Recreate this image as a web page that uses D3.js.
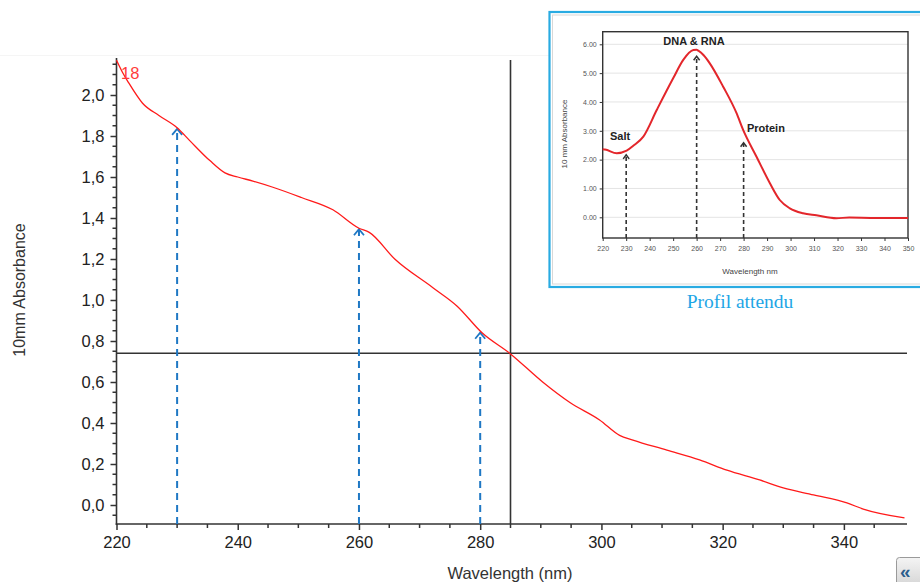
<!DOCTYPE html>
<html><head><meta charset="utf-8">
<script src="https://cdn.jsdelivr.net/npm/d3@7"></script>
<style>html,body{margin:0;padding:0;background:#fff;}svg{display:block;}</style>
</head><body>
<svg id="c" width="920" height="582"></svg>
<script>
// ---- main chart data ----
const wavelength = [220,221,222,224.3,227,230,232,235.4,237.9,240,242.5,245.8,250.5,255.7,260,261.7,265.9,272.2,276.2,280.3,285,290.3,294.8,299.7,303,305.2,310.8,316.2,320.7,326.1,330,335,340.5,343.2,350];
const absorbance = [2.17,2.11,2.06,1.96,1.90,1.84,1.78,1.68,1.62,1.60,1.58,1.55,1.50,1.44,1.35,1.33,1.20,1.06,0.97,0.84,0.737,0.60,0.50,0.415,0.34,0.317,0.268,0.22,0.17,0.122,0.083,0.049,0.01,-0.02,-0.063];
const xTicks = [220,240,260,280,300,320,340];
const yTicks = [0,0.2,0.4,0.6,0.8,1.0,1.2,1.4,1.6,1.8,2.0];
const markerWl = [230,260,280];
const markerTip = [1.84,1.35,0.845];
const crossWl = 285, crossAbs = 0.74;
const seriesLabel = "18";

// ---- inset data ----
const insetWl = [220,221,226,230.2,233,237.3,243,250,254.3,258.6,260,260.7,263,265.6,271.3,277,279.8,285.5,291.2,295.4,299.7,305.3,311,319.5,325,335,348.6,350];
const insetAbs = [2.36,2.35,2.22,2.31,2.48,2.80,3.72,4.82,5.46,5.80,5.81,5.78,5.62,5.34,4.53,3.61,3.03,2.10,1.18,0.60,0.31,0.14,0.07,-0.03,-0.01,-0.02,-0.02,-0.02];
const insetXTicks = [220,230,240,250,260,270,280,290,300,310,320,330,340,350];
const insetYTicks = [0,1,2,3,4,5,6];
const insetMarkerWl = [230,260,280];
const insetMarkerTip = [2.2,5.62,2.62];
const insetLabels = ["Salt","DNA & RNA","Protein"];

const svg = d3.select("#c");
const font = "'Liberation Sans', Arial, sans-serif";

// ---- main scales ----
const x = d3.scaleLinear().domain([220,350]).range([116.5,904.5]);
const y = d3.scaleLinear().domain([0,2]).range([505,95]);
const yBottom = 524, yTop = 58;

// faint top rule
svg.append("line").attr("x1",0).attr("x2",549).attr("y1",55.5).attr("y2",55.5).attr("stroke","#f5f5f5");

// y axis
const yAxisG = svg.append("g").attr("transform","translate(116.5,0)");
yAxisG.call(d3.axisLeft(y).tickValues(yTicks).tickSize(6).tickPadding(6)
  .tickFormat(d=>d3.format(".1f")(d).replace(".",",")));
yAxisG.select(".domain").remove();
yAxisG.selectAll(".tick line").attr("stroke","#333").attr("stroke-width",1.5);
yAxisG.selectAll("text").attr("font-family",font).attr("font-size",16.5).attr("fill","#222");
const yMinor = d3.range(-0.05,2.16,0.05).filter(v=>Math.abs(Math.round(v*5)-v*5)>0.01);
svg.append("g").selectAll("line").data(yMinor).join("line")
  .attr("x1",112.5).attr("x2",116.5).attr("y1",d=>y(d)).attr("y2",d=>y(d))
  .attr("stroke","#333").attr("stroke-width",1.5);
svg.append("line").attr("x1",116.5).attr("x2",116.5).attr("y1",yTop).attr("y2",yBottom+1)
  .attr("stroke","#333").attr("stroke-width",1.6);

// x axis
const xAxisG = svg.append("g").attr("transform",`translate(0,${yBottom})`);
xAxisG.call(d3.axisBottom(x).tickValues(xTicks).tickSize(6).tickPadding(6).tickFormat(d3.format("d")));
xAxisG.select(".domain").remove();
xAxisG.selectAll(".tick line").attr("stroke","#333").attr("stroke-width",1.5);
xAxisG.selectAll("text").attr("font-family",font).attr("font-size",16.5).attr("fill","#222");
const xMinor = d3.range(225,350,5).filter(v=>v%20!==0);
svg.append("g").selectAll("line").data(xMinor).join("line")
  .attr("x1",d=>x(d)).attr("x2",d=>x(d)).attr("y1",yBottom).attr("y2",yBottom+4)
  .attr("stroke","#333").attr("stroke-width",1.5);
svg.append("line").attr("x1",115.7).attr("x2",907).attr("y1",yBottom).attr("y2",yBottom)
  .attr("stroke","#333").attr("stroke-width",1.6);

// axis titles
svg.append("text").attr("x",510).attr("y",579).attr("text-anchor","middle")
  .attr("font-family",font).attr("font-size",16.5).attr("fill","#333").text("Wavelength (nm)");
svg.append("text").attr("transform","translate(25,290) rotate(-90)").attr("text-anchor","middle")
  .attr("font-family",font).attr("font-size",16).attr("fill","#333").text("10mm Absorbance");

// crosshair
svg.append("line").attr("x1",x(crossWl)).attr("x2",x(crossWl)).attr("y1",60).attr("y2",yBottom)
  .attr("stroke","#333").attr("stroke-width",1.6);
svg.append("line").attr("x1",116.5).attr("x2",907).attr("y1",y(crossAbs)).attr("y2",y(crossAbs))
  .attr("stroke","#333").attr("stroke-width",1.6);

// blue dashed arrows
const blue = "#1f78c4";
markerWl.forEach((w,i)=>{
  const xx = x(w), ty = y(markerTip[i]);
  svg.append("line").attr("x1",xx).attr("x2",xx).attr("y1",yBottom).attr("y2",ty+1)
    .attr("stroke",blue).attr("stroke-width",2).attr("stroke-dasharray","7,5");
  svg.append("path").attr("d",`M${xx-5},${ty+7}L${xx},${ty+1}L${xx+5},${ty+7}`)
    .attr("fill","none").attr("stroke",blue).attr("stroke-width",1.8);
});

// red curve
const line = d3.line().curve(d3.curveMonotoneX).x((d,i)=>x(wavelength[i])).y(d=>y(d));
svg.append("path").datum(absorbance).attr("d",line).attr("fill","none")
  .attr("stroke","#ff1a1a").attr("stroke-width",1.3);
svg.append("text").attr("x",121).attr("y",79).attr("font-family",font).attr("font-size",16.5)
  .attr("fill","#ff3b3b").text(seriesLabel);

// ---- inset ----
const ins = svg.append("g");
ins.append("rect").attr("x",549.5).attr("y",12).attr("width",380).attr("height",275)
  .attr("fill","#fff").attr("stroke","#29abe2").attr("stroke-width",2.2);
ins.append("rect").attr("x",552.5).attr("y",15).attr("width",380).attr("height",269)
  .attr("fill","none").attr("stroke","#d8d8d8").attr("stroke-width",1);

const ix = d3.scaleLinear().domain([220,350]).range([602.7,908]);
const iy = d3.scaleLinear().domain([0,6]).range([217.3,44.3]);
const iTop = 31.7, iBot = 238;

ins.append("g").selectAll("line").data(insetYTicks).join("line")
  .attr("x1",602.7).attr("x2",908).attr("y1",d=>iy(d)).attr("y2",d=>iy(d))
  .attr("stroke","#e4e4e4").attr("stroke-width",1);
const iyG = ins.append("g").attr("transform","translate(602.7,0)");
iyG.call(d3.axisLeft(iy).tickValues(insetYTicks).tickSize(3).tickPadding(3).tickFormat(d3.format(".2f")));
iyG.select(".domain").remove();
iyG.selectAll(".tick line").attr("stroke","#333");
iyG.selectAll("text").attr("font-family",font).attr("font-size",7).attr("fill","#555");
const ixG = ins.append("g").attr("transform",`translate(0,${iBot})`);
ixG.call(d3.axisBottom(ix).tickValues(insetXTicks).tickSize(3).tickPadding(5).tickFormat(d3.format("d")));
ixG.select(".domain").remove();
ixG.selectAll(".tick line").attr("stroke","#333");
ixG.selectAll("text").attr("font-family",font).attr("font-size",7).attr("fill","#555");
ins.append("rect").attr("x",602.7).attr("y",iTop).attr("width",908-602.7).attr("height",iBot-iTop)
  .attr("fill","none").attr("stroke","#333").attr("stroke-width",1.4);

ins.append("text").attr("x",750).attr("y",274).attr("text-anchor","middle")
  .attr("font-family",font).attr("font-size",8).attr("fill","#444").text("Wavelength nm");
ins.append("text").attr("transform","translate(567,134) rotate(-90)").attr("text-anchor","middle")
  .attr("font-family",font).attr("font-size",8).attr("fill","#444").text("10 mm Absorbance");

const iline = d3.line().curve(d3.curveMonotoneX).x((d,i)=>ix(insetWl[i])).y(d=>iy(d));
ins.append("path").datum(insetAbs).attr("d",iline).attr("fill","none")
  .attr("stroke","#e3262b").attr("stroke-width",2);

insetMarkerWl.forEach((w,i)=>{
  const xx = ix(w), ty = iy(insetMarkerTip[i]);
  ins.append("line").attr("x1",xx).attr("x2",xx).attr("y1",iBot).attr("y2",ty+1)
    .attr("stroke","#333").attr("stroke-width",1.6).attr("stroke-dasharray","4,3");
  ins.append("path").attr("d",`M${xx-3},${ty+5}L${xx},${ty+1}L${xx+3},${ty+5}`)
    .attr("fill","none").attr("stroke","#333").attr("stroke-width",1.5);
});
const labPos = [[610,140,"start"],[694,45,"middle"],[747,132,"start"]];
insetLabels.forEach((t,i)=>{
  ins.append("text").attr("x",labPos[i][0]).attr("y",labPos[i][1]).attr("text-anchor",labPos[i][2])
    .attr("font-family",font).attr("font-weight","bold").attr("font-size",11).attr("fill","#222").text(t);
});

svg.append("text").attr("x",740).attr("y",308).attr("text-anchor","middle")
  .attr("font-family","'Liberation Serif','Times New Roman',serif").attr("font-size",19.5)
  .attr("fill","#1ea6e6").text("Profil attendu");

// corner button
const defs = svg.append("defs");
const gr = defs.append("linearGradient").attr("id","bg").attr("x1",0).attr("y1",0).attr("x2",0).attr("y2",1);
gr.append("stop").attr("offset","0").attr("stop-color","#f4f4f4");
gr.append("stop").attr("offset","1").attr("stop-color","#d4d4d4");
svg.append("rect").attr("x",896.5).attr("y",557.5).attr("width",30).attr("height",30).attr("rx",3)
  .attr("fill","url(#bg)").attr("stroke","#9a9a9a");
svg.append("text").attr("x",900).attr("y",578).attr("font-family",font).attr("font-weight","bold")
  .attr("font-size",19).attr("fill","#2b5d8c").text("«");
</script>
</body></html>
